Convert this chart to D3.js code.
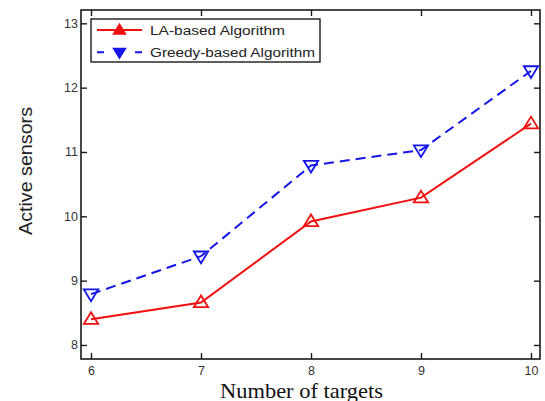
<!DOCTYPE html>
<html>
<head>
<meta charset="utf-8">
<script src="https://cdn.jsdelivr.net/npm/d3@7"></script>
<style>
  body { margin: 0; background: #fff; }
  svg { display: block; }
</style>
</head>
<body>
<svg id="chart" width="545" height="401"></svg>
<script>
const targets = [6, 7, 8, 9, 10];
const laBased = [8.40, 8.66, 9.92, 10.29, 11.44];
const greedyBased = [8.79, 9.38, 10.79, 11.03, 12.26];
const yTicks = [8, 9, 10, 11, 12, 13];

const svg = d3.select('#chart');
const plotL = 81, plotR = 540, plotT = 10, plotB = 359;

const x = d3.scaleLinear().domain([5.909, 10.082]).range([plotL, plotR]);
const y = d3.scaleLinear().domain([7.782, 13.207]).range([plotB, plotT]);

const tickFont = 'Arial, "Liberation Sans", sans-serif';

// frame
svg.append('rect')
  .attr('x', plotL).attr('y', plotT)
  .attr('width', plotR - plotL).attr('height', plotB - plotT)
  .attr('fill', 'none').attr('stroke', '#1a1a1a').attr('stroke-width', 1.6);

// inward ticks on all four sides, like matlab
const xAxisB = d3.axisBottom(x).tickValues(targets).tickSize(-6).tickPadding(7).tickFormat(d3.format('d'));
const xAxisT = d3.axisTop(x).tickValues(targets).tickSize(-6).tickFormat('');
const yAxisL = d3.axisLeft(y).tickValues(yTicks).tickSize(-6).tickPadding(3).tickFormat(d3.format('d'));
const yAxisR = d3.axisRight(y).tickValues(yTicks).tickSize(-6).tickFormat('');

const styleAxis = (g) => {
  g.select('.domain').remove();
  g.selectAll('.tick line').attr('stroke', '#1a1a1a').attr('stroke-width', 1.4);
  g.selectAll('.tick text').attr('fill', '#333').style('font-family', tickFont).style('font-size', '12.5px');
};

svg.append('g').attr('transform', `translate(0,${plotB})`).call(xAxisB).call(styleAxis);
svg.append('g').attr('transform', `translate(0,${plotT})`).call(xAxisT).call(styleAxis);
svg.append('g').attr('transform', `translate(${plotL},0)`).call(yAxisL).call(styleAxis);
svg.append('g').attr('transform', `translate(${plotR},0)`).call(yAxisR).call(styleAxis);

// axis titles
svg.append('text')
  .attr('x', 301.5).attr('y', 397.5)
  .attr('text-anchor', 'middle')
  .attr('textLength', 163).attr('lengthAdjust', 'spacingAndGlyphs')
  .style('font-family', '"Liberation Serif", "Times New Roman", serif')
  .style('font-size', '21px').attr('fill', '#111')
  .text('Number of targets');

svg.append('text')
  .attr('transform', 'translate(32,171) rotate(-90)')
  .attr('text-anchor', 'middle')
  .attr('textLength', 128).attr('lengthAdjust', 'spacingAndGlyphs')
  .style('font-family', tickFont)
  .style('font-size', '19px').attr('fill', '#222')
  .text('Active sensors');

const series = [
  { name: 'LA-based Algorithm', values: laBased, color: '#f01010', dash: null, marker: 'up', len: 135 },
  { name: 'Greedy-based Algorithm', values: greedyBased, color: '#1515e8', dash: '10,6', marker: 'down', len: 165 }
];

const tri = (cx, cy, dir, s) => {
  const h = s * 0.9;
  return dir === 'up'
    ? `M${cx},${cy - h * 0.6} L${cx + s * 0.55},${cy + h * 0.4} L${cx - s * 0.55},${cy + h * 0.4} Z`
    : `M${cx},${cy + h * 0.6} L${cx + s * 0.55},${cy - h * 0.4} L${cx - s * 0.55},${cy - h * 0.4} Z`;
};

const line = d3.line().x((d) => x(d[0])).y((d) => y(d[1]));

series.forEach((s) => {
  const pts = targets.map((t, i) => [t, s.values[i]]);
  svg.append('path')
    .attr('d', line(pts))
    .attr('fill', 'none')
    .attr('stroke', s.color)
    .attr('stroke-width', 2)
    .attr('stroke-dasharray', s.dash);
  svg.selectAll(null).data(pts).enter().append('path')
    .attr('d', (d) => tri(x(d[0]), y(d[1]), s.marker, 13))
    .attr('fill', 'none')
    .attr('stroke', s.color)
    .attr('stroke-width', 1.8);
});

// legend
const lg = svg.append('g');
lg.append('rect')
  .attr('x', 91).attr('y', 19).attr('width', 229).attr('height', 43)
  .attr('fill', '#fff').attr('stroke', '#1a1a1a').attr('stroke-width', 1.4);
series.forEach((s, i) => {
  const cy = 30 + i * 22.3;
  lg.append('line')
    .attr('x1', 97).attr('x2', 142).attr('y1', cy).attr('y2', cy)
    .attr('stroke', s.color).attr('stroke-width', 2)
    .attr('stroke-dasharray', s.dash ? '7,31' : null);
  lg.append('path')
    .attr('d', tri(119.5, cy, s.marker, 11))
    .attr('fill', s.color).attr('stroke', s.color).attr('stroke-width', 1.4);
  lg.append('text')
    .attr('x', 150).attr('y', cy + 4.5)
    .attr('textLength', s.len).attr('lengthAdjust', 'spacingAndGlyphs')
    .style('font-family', tickFont).style('font-size', '12.5px').attr('fill', '#222')
    .text(s.name);
});
</script>
</body>
</html>
